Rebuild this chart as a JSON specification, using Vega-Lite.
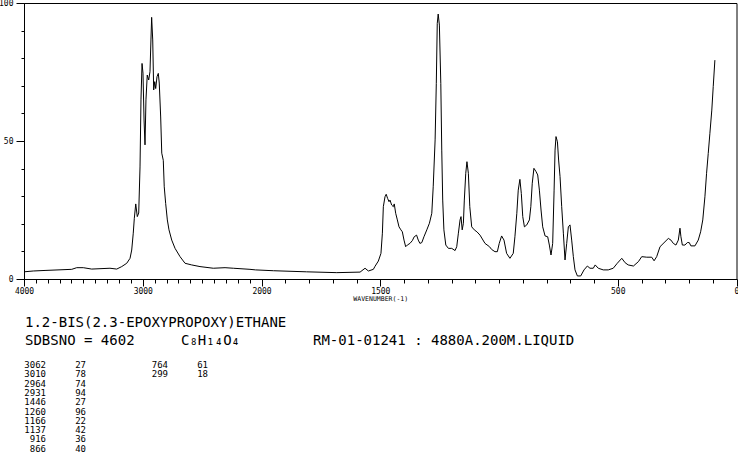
{
  "$schema": "https://vega.github.io/schema/vega-lite/v6.json",
  "width": 712.5,
  "height": 276,
  "autosize": {"type": "none"},
  "padding": {"left": 24, "top": 3, "right": 2, "bottom": 178},
  "background": "white",
  "config": {
    "view": {"stroke": "black", "strokeWidth": 1},
    "font": "DejaVu Sans Mono",
    "text": {"font": "DejaVu Sans Mono", "color": "black"}
  },
  "datasets": {
    "spectrum": [
      {"wn":4000,"i":2.6},{"wn":3922,"i":2.9},{"wn":3823,"i":3.1},{"wn":3598,"i":3.5},{"wn":3556,"i":4.1},{"wn":3501,"i":4.1},{"wn":3430,"i":3.6},{"wn":3276,"i":3.9},{"wn":3219,"i":3.6},{"wn":3177,"i":4.5},{"wn":3135,"i":5.7},{"wn":3107,"i":7.5},{"wn":3093,"i":10.5},{"wn":3080,"i":16.6},{"wn":3071,"i":22},{"wn":3059,"i":27.2},{"wn":3046,"i":22.6},{"wn":3034,"i":23.9},{"wn":3023,"i":40.6},{"wn":3015,"i":64.9},{"wn":3006,"i":78.1},{"wn":2998,"i":74.6},{"wn":2989,"i":57.6},{"wn":2981,"i":48.6},{"wn":2973,"i":64.9},{"wn":2962,"i":73.9},{"wn":2950,"i":72.1},{"wn":2939,"i":75.1},{"wn":2931,"i":86.6},{"wn":2925,"i":94.8},{"wn":2916,"i":86.6},{"wn":2908,"i":68.5},{"wn":2899,"i":71.5},{"wn":2891,"i":69},{"wn":2880,"i":73.3},{"wn":2869,"i":74.5},{"wn":2861,"i":71},{"wn":2849,"i":58.7},{"wn":2840,"i":45.6},{"wn":2827,"i":43},{"wn":2819,"i":33.4},{"wn":2807,"i":27.4},{"wn":2793,"i":21.4},{"wn":2779,"i":17.8},{"wn":2756,"i":14.1},{"wn":2728,"i":11.1},{"wn":2686,"i":8.1},{"wn":2644,"i":5.7},{"wn":2588,"i":5.1},{"wn":2518,"i":4.5},{"wn":2406,"i":3.9},{"wn":2307,"i":4.1},{"wn":2237,"i":3.9},{"wn":2097,"i":3.5},{"wn":2050,"i":3.3},{"wn":1950,"i":3.0},{"wn":1810,"i":2.6},{"wn":1683,"i":2.3},{"wn":1585,"i":2.5},{"wn":1564,"i":3.9},{"wn":1550,"i":2.9},{"wn":1529,"i":3.5},{"wn":1522,"i":4.6},{"wn":1508,"i":6.5},{"wn":1497,"i":9.3},{"wn":1491,"i":16.6},{"wn":1487,"i":26.2},{"wn":1480,"i":29.8},{"wn":1475,"i":30.7},{"wn":1469,"i":29.2},{"wn":1463,"i":28.0},{"wn":1459,"i":28.6},{"wn":1452,"i":26.8},{"wn":1445,"i":26.2},{"wn":1441,"i":27.2},{"wn":1435,"i":23.8},{"wn":1428,"i":21.4},{"wn":1421,"i":18.9},{"wn":1413,"i":17.8},{"wn":1407,"i":17.1},{"wn":1400,"i":14.1},{"wn":1393,"i":11.7},{"wn":1386,"i":12.3},{"wn":1375,"i":12.9},{"wn":1365,"i":13.9},{"wn":1357,"i":15.3},{"wn":1347,"i":15.9},{"wn":1340,"i":14.1},{"wn":1333,"i":12.9},{"wn":1325,"i":13.2},{"wn":1316,"i":15.3},{"wn":1304,"i":17.8},{"wn":1293,"i":20.2},{"wn":1283,"i":23.8},{"wn":1277,"i":33.4},{"wn":1269,"i":50.4},{"wn":1264,"i":70.9},{"wn":1260,"i":92.6},{"wn":1256,"i":96.0},{"wn":1251,"i":92},{"wn":1245,"i":70.9},{"wn":1241,"i":46.7},{"wn":1237,"i":28.6},{"wn":1232,"i":17.8},{"wn":1224,"i":12.3},{"wn":1213,"i":11.1},{"wn":1199,"i":11.1},{"wn":1185,"i":10.3},{"wn":1178,"i":11.7},{"wn":1171,"i":16.6},{"wn":1164,"i":21.4},{"wn":1160,"i":22.6},{"wn":1155,"i":17.8},{"wn":1150,"i":20.2},{"wn":1146,"i":28.6},{"wn":1140,"i":38.3},{"wn":1135,"i":42.5},{"wn":1129,"i":38.3},{"wn":1123,"i":26.2},{"wn":1115,"i":18.9},{"wn":1104,"i":17.8},{"wn":1093,"i":17.1},{"wn":1080,"i":15.9},{"wn":1059,"i":12.9},{"wn":1040,"i":11.7},{"wn":1031,"i":10.7},{"wn":1017,"i":9.9},{"wn":1007,"i":9.9},{"wn":999,"i":12.9},{"wn":989,"i":15.6},{"wn":979,"i":14.1},{"wn":968,"i":9.3},{"wn":954,"i":7.5},{"wn":940,"i":9.3},{"wn":933,"i":15.3},{"wn":925,"i":23.8},{"wn":919,"i":32.2},{"wn":912,"i":36.1},{"wn":906,"i":31.0},{"wn":900,"i":22.6},{"wn":893,"i":18.9},{"wn":883,"i":19.6},{"wn":872,"i":21.4},{"wn":866,"i":26.2},{"wn":860,"i":34.7},{"wn":853,"i":40.1},{"wn":844,"i":38.9},{"wn":837,"i":37.7},{"wn":830,"i":32.2},{"wn":823,"i":25},{"wn":816,"i":18.9},{"wn":806,"i":15.6},{"wn":795,"i":15.3},{"wn":788,"i":12.3},{"wn":781,"i":8.7},{"wn":774,"i":12.9},{"wn":768,"i":32.2},{"wn":764,"i":46.7},{"wn":760,"i":51.6},{"wn":754,"i":49.7},{"wn":749,"i":43.1},{"wn":743,"i":37.1},{"wn":736,"i":26.2},{"wn":729,"i":16.6},{"wn":722,"i":6.9},{"wn":715,"i":12.9},{"wn":708,"i":18.9},{"wn":701,"i":19.6},{"wn":694,"i":14.1},{"wn":687,"i":8.1},{"wn":680,"i":3.3},{"wn":670,"i":1.1},{"wn":656,"i":1.1},{"wn":642,"i":3.3},{"wn":628,"i":4.7},{"wn":617,"i":3.9},{"wn":603,"i":3.9},{"wn":595,"i":5.1},{"wn":582,"i":3.9},{"wn":561,"i":3.3},{"wn":540,"i":3.3},{"wn":519,"i":3.9},{"wn":502,"i":5.7},{"wn":483,"i":7.5},{"wn":469,"i":5.9},{"wn":456,"i":5.1},{"wn":434,"i":4.7},{"wn":413,"i":6.3},{"wn":399,"i":8.1},{"wn":378,"i":7.9},{"wn":357,"i":7.9},{"wn":347,"i":6.6},{"wn":336,"i":8.1},{"wn":322,"i":11.7},{"wn":301,"i":13.5},{"wn":287,"i":14.7},{"wn":276,"i":14.1},{"wn":266,"i":12.9},{"wn":255,"i":12.3},{"wn":245,"i":14.1},{"wn":238,"i":18.4},{"wn":234,"i":15.3},{"wn":228,"i":12.3},{"wn":217,"i":12.3},{"wn":207,"i":13.2},{"wn":199,"i":13.2},{"wn":192,"i":12.0},{"wn":175,"i":12.0},{"wn":161,"i":14.1},{"wn":151,"i":17.1},{"wn":142,"i":21.4},{"wn":133,"i":29.8},{"wn":126,"i":38.3},{"wn":119,"i":45.5},{"wn":112,"i":52.8},{"wn":104,"i":61.2},{"wn":98,"i":69.7},{"wn":91,"i":79.3}
    ],
    "header": [
      {"row": 0, "col": 0, "text": "1.2-BIS(2.3-EPOXYPROPOXY)ETHANE"},
      {"row": 1, "col": 0, "text": "SDBSNO = 4602"},
      {"row": 1, "col": 1, "text": "C₈H₁₄O₄"},
      {"row": 1, "col": 2, "text": "RM-01-01241 : 4880A.200M.LIQUID"}
    ],
    "peaks": [
      {"col": 0, "row": 0, "wn": "3062", "int": "27"},
      {"col": 0, "row": 1, "wn": "3010", "int": "78"},
      {"col": 0, "row": 2, "wn": "2964", "int": "74"},
      {"col": 0, "row": 3, "wn": "2931", "int": "94"},
      {"col": 0, "row": 4, "wn": "1446", "int": "27"},
      {"col": 0, "row": 5, "wn": "1260", "int": "96"},
      {"col": 0, "row": 6, "wn": "1166", "int": "22"},
      {"col": 0, "row": 7, "wn": "1137", "int": "42"},
      {"col": 0, "row": 8, "wn": "916", "int": "36"},
      {"col": 0, "row": 9, "wn": "866", "int": "40"},
      {"col": 1, "row": 0, "wn": "764", "int": "61"},
      {"col": 1, "row": 1, "wn": "299", "int": "18"}
    ]
  },
  "layer": [
    {
      "data": {"name": "spectrum"},
      "layer": [
        {
          "mark": {"type": "line", "color": "black", "strokeWidth": 1},
          "encoding": {
            "x": {
              "field": "wn", "type": "quantitative",
              "scale": {"domain": [4000, 2000, 0], "range": [0, 237.5, 712.5], "nice": false, "zero": false},
              "axis": {
                "orient": "bottom",
                "values": [4000, 3000, 2000, 1500, 500, 0],
                "format": "d",
                "tickSize": 7, "tickColor": "black", "domainColor": "black", "labelColor": "black",
                "labelFont": "DejaVu Sans Mono", "labelFontSize": 8, "labelPadding": 1,
                "labelOverlap": false, "labelFlush": false, "labelBound": false,
                "grid": false,
                "title": "WAVENUMBER(-1)", "titleFont": "DejaVu Sans Mono", "titleFontSize": 6.5,
                "titleFontWeight": "normal", "titleColor": "black", "titlePadding": 0
              }
            },
            "y": {
              "field": "i", "type": "quantitative",
              "scale": {"domain": [0, 100], "nice": false, "zero": false},
              "axis": {
                "orient": "left",
                "values": [0, 50, 100],
                "tickSize": 8, "tickColor": "black", "domainColor": "black", "labelColor": "black",
                "labelFont": "DejaVu Sans Mono", "labelFontSize": 8, "labelPadding": 3,
                "labelOverlap": false, "labelFlush": false, "labelBound": false,
                "grid": false, "title": null
              }
            }
          }
        },
        {
          "mark": {"type": "line", "color": "black", "strokeWidth": 1, "opacity": 0},
          "encoding": {
            "x": {
              "field": "wn", "type": "quantitative",
              "axis": {
                "orient": "bottom",
                "values": [0,100,200,300,400,500,600,700,800,900,1000,1100,1200,1300,1400,1500,1600,1700,1800,1900,2000,2100,2200,2300,2400,2500,2600,2700,2800,2900,3000,3100,3200,3300,3400,3500,3600,3700,3800,3900,4000],
                "tickSize": 4, "tickColor": "black", "domain": false, "labels": false,
                "grid": false, "title": null
              }
            },
            "y": {
              "field": "i", "type": "quantitative",
              "axis": {
                "orient": "left",
                "values": [0,10,20,30,40,50,60,70,80,90,100],
                "tickSize": 3, "tickColor": "black", "domain": false, "labels": false,
                "grid": false, "title": null
              }
            }
          }
        }
      ],
      "resolve": {"axis": {"x": "independent", "y": "independent"}}
    },
    {
      "data": {"name": "header"},
      "mark": {"type": "text", "align": "left", "baseline": "middle", "fontSize": 14, "font": "DejaVu Sans Mono", "color": "black"},
      "encoding": {
        "x": {"field": "col", "type": "quantitative", "scale": {"domain": [0, 1, 2], "range": [1, 157, 289], "nice": false, "zero": false}, "axis": null},
        "y": {"field": "row", "type": "quantitative", "scale": {"domain": [0, 1], "range": [320, 338], "nice": false, "zero": false}, "axis": null},
        "text": {"field": "text"}
      }
    },
    {
      "data": {"name": "peaks"},
      "mark": {"type": "text", "align": "right", "baseline": "middle", "fontSize": 9, "font": "DejaVu Sans Mono", "color": "black"},
      "encoding": {
        "x": {"field": "col", "type": "quantitative", "scale": {"domain": [0, 1], "range": [22, 144], "nice": false, "zero": false}, "axis": null},
        "y": {"field": "row", "type": "quantitative", "scale": {"domain": [0, 9], "range": [362, 445.7], "nice": false, "zero": false}, "axis": null},
        "text": {"field": "wn"}
      }
    },
    {
      "data": {"name": "peaks"},
      "mark": {"type": "text", "align": "right", "baseline": "middle", "fontSize": 9, "font": "DejaVu Sans Mono", "color": "black"},
      "encoding": {
        "x": {"field": "col", "type": "quantitative", "scale": {"domain": [0, 1], "range": [62, 184], "nice": false, "zero": false}, "axis": null},
        "y": {"field": "row", "type": "quantitative", "scale": {"domain": [0, 9], "range": [362, 445.7], "nice": false, "zero": false}, "axis": null},
        "text": {"field": "int"}
      }
    }
  ],
  "resolve": {"scale": {"x": "independent", "y": "independent"}}
}
